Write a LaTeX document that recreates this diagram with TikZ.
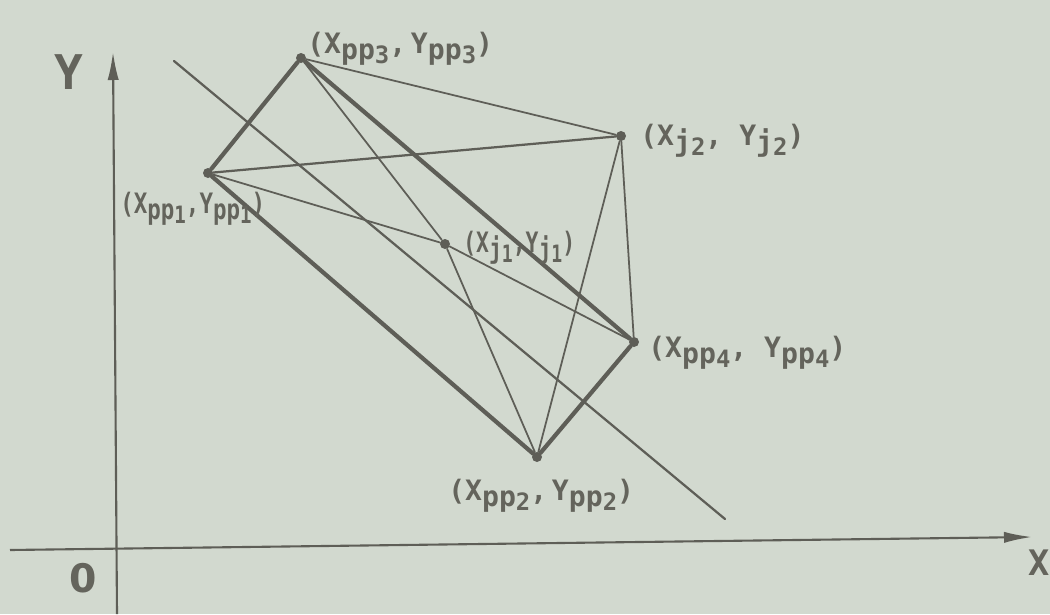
\documentclass[tikz,border=0pt]{standalone}
\usepackage{fontspec}
\setmonofont{DejaVu Sans Mono}
\setsansfont{DejaVu Sans}
\usetikzlibrary{arrows.meta}
\definecolor{bg}{HTML}{D2D9CF}
\definecolor{ink}{HTML}{5E5E57}
\definecolor{txt}{HTML}{64645C}
\newcommand\lw[1]{\raisebox{-0.24em}{#1}}
\newcommand\dg[1]{\raisebox{-0.38em}{\fontsize{17}{19}\selectfont #1}}
\begin{document}
\begin{tikzpicture}[x=0.25mm,y=-0.25mm,
  thickline/.style={draw=ink,line width=3pt,line cap=round},
  thinline/.style={draw=ink,line width=1.25pt,line cap=round},
  midline/.style={draw=ink,line width=1.6pt,line cap=round},
  axis/.style={draw=ink,line width=1.5pt,-{Latex[length=7mm,width=2.8mm]}},
  dot/.style={circle,fill=ink,inner sep=0pt,minimum size=2.5mm},
  lbl/.style={font=\ttfamily\bfseries\fontsize{20}{23}\selectfont,text=txt,inner sep=0pt,anchor=base west},
  big/.style={font=\ttfamily\bfseries\fontsize{34}{38}\selectfont,text=txt,inner sep=0pt}]
\fill[bg] (0,0) rectangle (1050,614);
\useasboundingbox (0,0) rectangle (1050,614);
% axes
\coordinate (xs) at (10,550);
\coordinate (xe) at (1032,537);
\coordinate (ys) at (117,614);
\coordinate (ye) at (113,52);
\draw[axis] (xs) -- (xe);
\draw[axis] (ys) -- (ye);
\node[big] (ylab) at (69,72) {Y};
\node[big,font=\ttfamily\bfseries\fontsize{25}{29}\selectfont] (xlab) at (1039,563) {X};
\node[big,font=\sffamily\bfseries\fontsize{28}{32}\selectfont] (olab) at (83,578) {0};
% points
\node[dot] (pp3) at (301,58) {};
\node[dot] (pp1) at (208,173) {};
\node[dot] (j2) at (621,136) {};
\node[dot] (j1) at (445,244) {};
\node[dot] (pp4) at (634,342) {};
\node[dot] (pp2) at (537,457) {};
% diagonal
\coordinate (d1) at (174,61);
\coordinate (d2) at (725,519);
\draw[midline] (d1) -- (d2);
% thin connectors
\draw[thinline] (pp3) -- (j2);
\draw[midline] (pp1) -- (j2);
\draw[thinline] (pp1) -- (j1);
\draw[thinline] (j1) -- (pp4);
\draw[thinline] (pp3) -- (j1);
\draw[thinline] (j1) -- (pp2);
\draw[thinline] (j2) -- (pp2);
\draw[thinline] (j2) -- (pp4);
% thick quadrilateral
\draw[thickline] (pp3) -- (pp1);
\draw[thickline] (pp1) -- (pp2);
\draw[thickline] (pp2) -- (pp4);
\draw[thickline] (pp4) -- (pp3);
% labels
\node[lbl] (lpp3) at (307,53) {(X\lw{pp}\dg{3},\,Y\lw{pp}\dg{3})};
\node[lbl] (lpp1) at (120,213) {\scalebox{0.8}[1]{(X\lw{pp}\dg{1},Y\lw{pp}\dg{1})}};
\node[lbl] (lj2) at (640,145) {(X\lw{j}\dg{2}, Y\lw{j}\dg{2})};
\node[lbl] (lj1) at (463,252) {\scalebox{0.76}[1]{(X\lw{j}\dg{1},Y\lw{j}\dg{1})}};
\node[lbl] (lpp4) at (648,357) {(X\lw{pp}\dg{4}, Y\lw{pp}\dg{4})};
\node[lbl] (lpp2) at (448,500) {(X\lw{pp}\dg{2},\,Y\lw{pp}\dg{2})};
\end{tikzpicture}
\end{document}
